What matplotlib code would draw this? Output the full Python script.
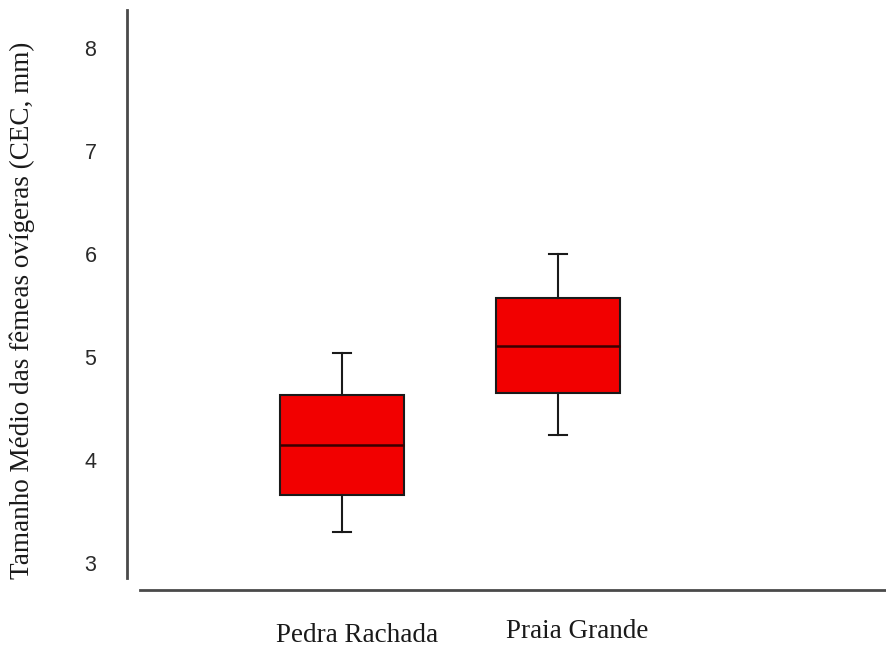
import matplotlib
matplotlib.use("Agg")
import matplotlib.pyplot as plt

# summary values
sites = ["Pedra Rachada", "Praia Grande"]
whisker_low = [3.30, 4.24]
q1 = [3.66, 4.65]
median = [4.15, 5.11]
q3 = [4.63, 5.57]
whisker_high = [5.04, 6.00]
yticks = [3, 4, 5, 6, 7, 8]

stats = []
for i in range(len(sites)):
    stats.append({"label": sites[i], "whislo": whisker_low[i], "q1": q1[i],
                  "med": median[i], "q3": q3[i], "whishi": whisker_high[i],
                  "fliers": []})

fig = plt.figure(figsize=(8.86, 6.48), dpi=100)
ax = fig.add_axes([127 / 886, 58 / 648, 759 / 886, 580 / 648])

ax.bxp(stats, positions=[1, 2], widths=0.574, capwidths=0.08,
       showfliers=False, patch_artist=True,
       boxprops=dict(facecolor="#f20000", edgecolor="#1a1a1a", linewidth=1.5),
       medianprops=dict(color="#3a0000", linewidth=1.8),
       whiskerprops=dict(color="#1a1a1a", linewidth=1.5),
       capprops=dict(color="#1a1a1a", linewidth=1.5))

ax.set_xlim(0.005, 3.518)
ax.set_ylim(2.74, 8.37)

for s in ["top", "right"]:
    ax.spines[s].set_visible(False)
ax.spines["left"].set_bounds(2.86, 8.37)
ax.spines["bottom"].set_bounds(0.065, 3.518)
ax.spines["left"].set_color("#4a4a4a")
ax.spines["bottom"].set_color("#4a4a4a")
ax.spines["left"].set_linewidth(2)
ax.spines["bottom"].set_linewidth(2)

ax.set_yticks(yticks)
ax.set_yticklabels([str(t) for t in yticks], family="Liberation Sans",
                   fontsize=15.5, color="#2a2a2a")
ax.tick_params(axis="y", length=0, pad=22)
ax.set_xticks([])

offsets = [0.07, 0.09]
for i in range(len(sites)):
    ax.text(1 + i + offsets[i], -0.078 + (0.006 if i else 0), sites[i],
            transform=ax.get_xaxis_transform(), ha="center", va="center",
            family="Liberation Serif", fontsize=19.5, color="#1a1a1a")

fig.text(22 / 886, 1 - 310 / 648, "Tamanho Médio das fêmeas ovígeras (CEC, mm)",
         rotation=90, ha="center", va="center", family="Liberation Serif",
         fontsize=19.5, color="#1a1a1a")

fig.savefig("out.png", dpi=100)
